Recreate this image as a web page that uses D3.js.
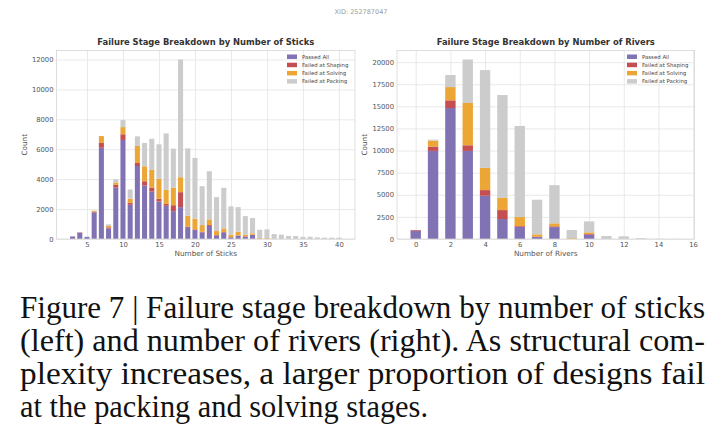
<!DOCTYPE html>
<html>
<head>
<meta charset="utf-8">
<script src="https://cdn.jsdelivr.net/npm/d3@7"></script>
<style>
  body { margin: 0; background: #fff; }
  svg text { font-family: "DejaVu Sans", sans-serif; }
  .caption text { font-family: "Liberation Serif", serif; fill: #111; }
</style>
</head>
<body>
<svg id="fig" width="722" height="441"></svg>
<script>
const stages = ["Passed All", "Failed at Shaping", "Failed at Solving", "Failed at Packing"];
const stageColors = ["#8172b3", "#c44e52", "#eca635", "#cccccc"];

// left panel: number of sticks
const sticks = [3,4,5,6,7,8,9,10,11,12,13,14,15,16,17,18,19,20,21,22,23,24,25,26,27,28,29,30,31,32,33,34,35,36,37,38,39,40];
const sticksPassed  = [170,400,140,1780,6100,710,3440,6620,2290,4880,3570,3170,2510,2220,1860,2130,800,600,440,870,240,440,110,220,150,270,10,10,0,0,0,0,0,0,0,0,0,0];
const sticksShaping = [10,40,0,50,320,70,180,380,130,200,290,270,180,130,400,1000,20,40,50,60,30,30,10,20,30,20,0,0,0,0,0,0,0,0,0,0,0,0];
const sticksSolving = [0,0,0,60,460,90,160,480,270,1140,1000,1180,1330,940,1180,1000,730,710,440,380,260,240,170,250,110,90,60,60,0,0,0,0,0,0,0,0,0,0];
const sticksPacking = [20,30,10,0,0,110,220,470,620,640,1560,2080,2310,3770,2600,7870,4510,4070,2600,3220,2270,2710,1890,1640,1240,1020,550,570,330,290,200,200,150,150,110,90,90,90];

// right panel: number of rivers
const rivers = [0,1,2,3,4,5,6,7,8,9,10,11,12,13,14,15];
const riversPassed  = [900,9960,14810,9960,4890,2260,1390,230,1350,20,490,0,0,0,0,0];
const riversShaping = [100,490,870,640,640,1010,80,30,80,0,70,0,0,0,0,0];
const riversSolving = [0,680,1500,4780,2520,1390,1010,270,340,90,190,0,0,0,0,0];
const riversPacking = [15,110,1360,4920,11050,11620,10300,3910,4320,905,1240,340,300,100,20,10];

const stickTicks = [5,10,15,20,25,30,35,40];
const stickCountTicks = [0,2000,4000,6000,8000,10000,12000];
const riverTicks = [0,2,4,6,8,10,12,14,16];
const riverCountTicks = [0,2500,5000,7500,10000,12500,15000,17500,20000];

const captionLines = [
  "Figure 7 | Failure stage breakdown by number of sticks",
  "(left) and number of rivers (right). As structural com-",
  "plexity increases, a larger proportion of designs fail",
  "at the packing and solving stages."
];
const captionWidths = [685, 685, 685, 408];

const svg = d3.select("#fig");
svg.append("rect").attr("width", 722).attr("height", 441).attr("fill", "#fff");

svg.append("text")
  .attr("x", 361).attr("y", 14)
  .attr("text-anchor", "middle")
  .attr("font-size", 6.5)
  .attr("fill", "#9a9a9a")
  .text("XID: 252787047");

function drawPanel(p) {
  const rows = p.cats.map((c, i) => ({
    cat: c,
    "Passed All": p.series[0][i],
    "Failed at Shaping": p.series[1][i],
    "Failed at Solving": p.series[2][i],
    "Failed at Packing": p.series[3][i]
  }));
  const stacked = d3.stack().keys(stages)(rows);
  const yMax = d3.max(rows, r => stages.reduce((a, k) => a + r[k], 0)) * 1.05;

  const x = d3.scaleLinear()
    .domain([p.cats[0] - p.barW / 2, p.cats[p.cats.length - 1] + p.barW / 2])
    .range([p.left, p.right]);
  const span = x.domain()[1] - x.domain()[0];
  x.domain([x.domain()[0] - span * 0.05, x.domain()[1] + span * 0.05]);
  const y = d3.scaleLinear().domain([0, yMax]).range([p.bottom, p.top]);

  const g = svg.append("g");

  // grid
  g.append("g")
    .attr("transform", `translate(0,${p.bottom})`)
    .call(d3.axisBottom(x).tickValues(p.xTicks).tickSize(-(p.bottom - p.top)).tickFormat(""))
    .call(a => a.select(".domain").remove())
    .call(a => a.selectAll("line").attr("stroke", "#e3e3e3").attr("stroke-width", 0.8));
  g.append("g")
    .attr("transform", `translate(${p.left},0)`)
    .call(d3.axisLeft(y).tickValues(p.yTicks).tickSize(-(p.right - p.left)).tickFormat(""))
    .call(a => a.select(".domain").remove())
    .call(a => a.selectAll("line").attr("stroke", "#e3e3e3").attr("stroke-width", 0.8));

  // bars
  g.selectAll(".layer")
    .data(stacked)
    .join("g")
      .attr("fill", (d, i) => stageColors[i])
    .selectAll("rect")
    .data(d => d)
    .join("rect")
      .attr("x", d => x(d.data.cat - p.barW / 2))
      .attr("width", d => x(p.barW) - x(0))
      .attr("y", d => y(d[1]))
      .attr("height", d => Math.max(0, y(d[0]) - y(d[1])));

  // frame
  g.append("rect")
    .attr("x", p.left).attr("y", p.top)
    .attr("width", p.right - p.left).attr("height", p.bottom - p.top)
    .attr("fill", "none").attr("stroke", "#d6d6d6").attr("stroke-width", 0.8);

  // tick labels
  g.append("g")
    .attr("transform", `translate(0,${p.bottom})`)
    .call(d3.axisBottom(x).tickValues(p.xTicks).tickSize(0).tickPadding(3).tickFormat(d3.format("d")))
    .call(a => a.select(".domain").remove())
    .call(a => a.selectAll("text").attr("font-size", 6.8).attr("fill", "#555").attr("font-family", "DejaVu Sans"));
  g.append("g")
    .attr("transform", `translate(${p.left},0)`)
    .call(d3.axisLeft(y).tickValues(p.yTicks).tickSize(0).tickPadding(3).tickFormat(d3.format("d")))
    .call(a => a.select(".domain").remove())
    .call(a => a.selectAll("text").attr("font-size", 6.8).attr("fill", "#555").attr("font-family", "DejaVu Sans"));

  // titles and labels
  g.append("text")
    .attr("x", (p.left + p.right) / 2).attr("y", p.top - 6)
    .attr("text-anchor", "middle")
    .attr("font-size", 8.4).attr("font-weight", "bold").attr("fill", "#333")
    .text(p.title);
  g.append("text")
    .attr("x", (p.left + p.right) / 2).attr("y", p.bottom + 17)
    .attr("text-anchor", "middle")
    .attr("font-size", 7.3).attr("fill", "#555")
    .text(p.xLabel);
  g.append("text")
    .attr("transform", `translate(${p.countX},${(p.top + p.bottom) / 2}) rotate(-90)`)
    .attr("text-anchor", "middle")
    .attr("font-size", 7.3).attr("fill", "#555")
    .text("Count");

  // legend
  const leg = g.append("g").attr("transform", `translate(${p.legX},${p.top + 4})`);
  stages.forEach((s, i) => {
    leg.append("rect")
      .attr("x", 0).attr("y", i * 8.2)
      .attr("width", 10).attr("height", 4.5)
      .attr("fill", stageColors[i]);
    leg.append("text")
      .attr("x", 15).attr("y", i * 8.2 + 4.3)
      .attr("font-size", 5.4).attr("fill", "#444")
      .text(s);
  });
}

drawPanel({
  cats: sticks,
  series: [sticksPassed, sticksShaping, sticksSolving, sticksPacking],
  barW: 0.7,
  left: 56.5, right: 355, top: 50.5, bottom: 239,
  xTicks: stickTicks, yTicks: stickCountTicks,
  title: "Failure Stage Breakdown by Number of Sticks",
  xLabel: "Number of Sticks",
  countX: 27,
  legX: 287
});

drawPanel({
  cats: rivers,
  series: [riversPassed, riversShaping, riversSolving, riversPacking],
  barW: 0.6,
  left: 397, right: 694.5, top: 50.5, bottom: 239,
  xTicks: riverTicks, yTicks: riverCountTicks,
  title: "Failure Stage Breakdown by Number of Rivers",
  xLabel: "Number of Rivers",
  countX: 367,
  legX: 627
});

// caption, each line fitted to its width in the figure
const cap = svg.append("g").attr("class", "caption");
const capLeft = 20;
captionLines.forEach((line, i) => {
  cap.append("text")
    .attr("x", capLeft).attr("y", 318 + i * 33)
    .attr("font-size", 31)
    .attr("textLength", captionWidths[i])
    .attr("lengthAdjust", "spacingAndGlyphs")
    .text(line);
});
</script>
</body>
</html>
